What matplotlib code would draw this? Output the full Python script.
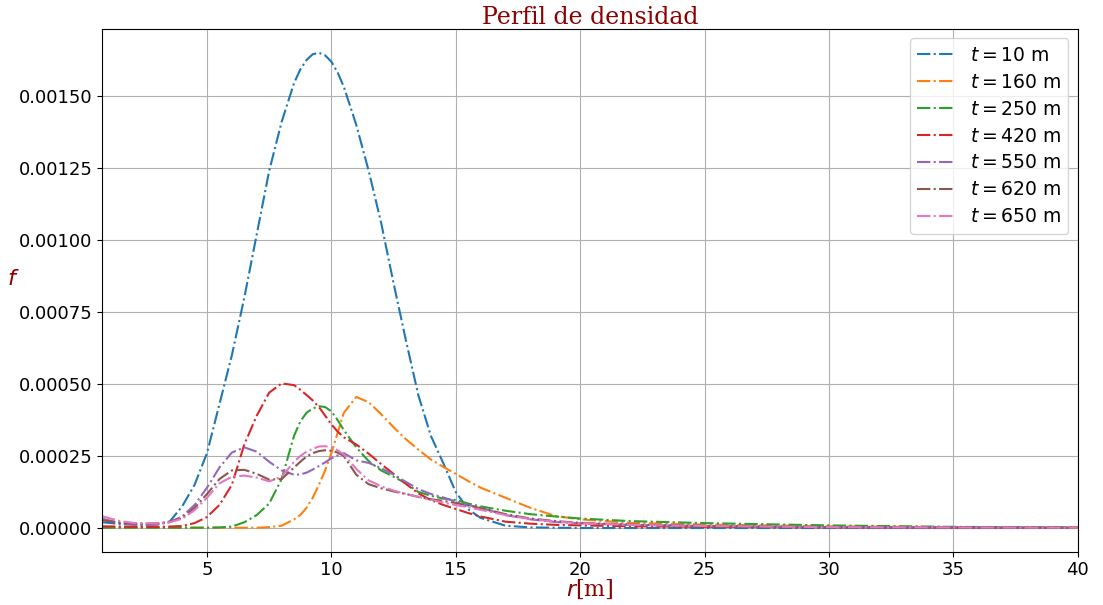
import numpy as np
import matplotlib
matplotlib.use('Agg')
import matplotlib.pyplot as plt

# radial grid (m)
r = [0.78, 1.5, 2, 2.5, 3, 3.5, 4, 4.5, 5, 5.5, 6, 6.5, 7, 7.5, 8, 8.5, 8.75, 9, 9.25,
     9.5, 9.75, 10, 10.25, 10.5, 11, 11.5, 12, 12.5, 13, 13.5, 14, 14.5, 15, 15.5, 16,
     17, 18, 19, 20, 22, 25, 30, 35, 40]

f_10 = [2.0e-5, 1.4e-5, 1.2e-5, 1.1e-5, 1.3e-5, 2.2e-5, 7.5e-5, 1.5e-4, 2.6e-4, 4.3e-4,
        6.0e-4, 8.0e-4, 1.02e-3, 1.24e-3, 1.41e-3, 1.545e-3, 1.592e-3, 1.625e-3, 1.645e-3,
        1.65e-3, 1.641e-3, 1.619e-3, 1.582e-3,
        1.532e-3, 1.40e-3, 1.24e-3, 1.06e-3, 8.5e-4, 6.5e-4, 4.6e-4, 3.2e-4, 2.25e-4,
        1.25e-4, 6.5e-5, 3.5e-5, 8.0e-6, 2.0e-6, 1.0e-6, 0, 0, 0, 0, 0, 0]
f_160 = [2e-6, 1e-6, 1e-6, 1e-6, 1e-6, 1e-6, 1e-6, 1e-6, 1e-6, 1e-6, 1e-6, 1e-6, 1e-6,
         3e-6, 8e-6, 3.0e-5, 4.5e-5, 7.0e-5, 1.05e-4, 1.5e-4, 2.0e-4, 2.6e-4, 3.3e-4,
         4.0e-4, 4.55e-4, 4.37e-4, 3.95e-4,
         3.5e-4, 3.08e-4, 2.72e-4, 2.38e-4, 2.12e-4, 1.88e-4, 1.63e-4, 1.4e-4, 1.05e-4,
         7.0e-5, 4.2e-5, 3.0e-5, 1.8e-5, 1.2e-5, 6e-6, 3e-6, 2e-6]
f_250 = [1e-6, 1e-6, 1e-6, 1e-6, 1e-6, 1e-6, 1e-6, 1e-6, 1e-6, 2e-6, 5e-6, 2.0e-5, 4.5e-5,
         8.5e-5, 1.7e-4, 3.2e-4, 3.7e-4, 4.0e-4, 4.15e-4, 4.23e-4, 4.2e-4, 4.05e-4, 3.75e-4,
         3.4e-4, 2.8e-4, 2.32e-4, 2.0e-4,
         1.78e-4, 1.55e-4, 1.25e-4, 1.12e-4, 1.02e-4, 9.7e-5, 8.5e-5, 7.5e-5, 6.0e-5,
         4.8e-5, 4.0e-5, 3.3e-5, 2.4e-5, 1.7e-5, 9e-6, 4e-6, 2e-6]
f_420 = [6e-6, 5e-6, 4e-6, 4e-6, 4e-6, 5e-6, 7e-6, 1.7e-5, 3.8e-5, 8.0e-5, 1.5e-4, 2.9e-4,
         3.9e-4, 4.7e-4, 5.02e-4, 4.96e-4, 4.8e-4, 4.62e-4, 4.43e-4, 4.2e-4, 3.9e-4,
         3.6e-4, 3.35e-4, 3.15e-4, 2.9e-4,
         2.58e-4, 2.22e-4, 1.88e-4, 1.53e-4, 1.2e-4, 9.7e-5, 8.0e-5, 6.6e-5, 5.2e-5,
         4.0e-5, 2.2e-5, 1.5e-5, 1.1e-5, 9e-6, 6e-6, 4e-6, 2e-6, 1e-6, 1e-6]
f_550 = [3.2e-5, 1.8e-5, 1.2e-5, 1.0e-5, 1.2e-5, 2.0e-5, 4.0e-5, 8.0e-5, 1.4e-4, 2.1e-4,
         2.62e-4, 2.8e-4, 2.65e-4, 2.3e-4, 2.0e-4, 1.85e-4, 1.86e-4, 1.92e-4, 2.03e-4,
         2.15e-4, 2.28e-4, 2.42e-4, 2.52e-4,
         2.6e-4, 2.35e-4, 2.26e-4, 2.08e-4, 1.85e-4, 1.6e-4, 1.35e-4, 1.18e-4, 1.06e-4,
         9.2e-5, 8.0e-5, 7.0e-5, 4.5e-5, 3.0e-5, 2.1e-5, 1.6e-5, 1.1e-5, 7e-6, 3e-6,
         2e-6, 1e-6]
f_620 = [2.7e-5, 1.8e-5, 1.6e-5, 1.5e-5, 1.6e-5, 2.2e-5, 3.5e-5, 7.0e-5, 1.18e-4, 1.7e-4,
         2.0e-4, 2.02e-4, 1.88e-4, 1.68e-4, 1.7e-4, 2.1e-4, 2.3e-4, 2.48e-4, 2.6e-4,
         2.67e-4, 2.7e-4, 2.68e-4, 2.62e-4,
         2.5e-4, 1.85e-4, 1.52e-4, 1.38e-4, 1.27e-4, 1.18e-4, 1.08e-4, 1.0e-4, 9.4e-5,
         8.7e-5, 7.8e-5, 6.9e-5, 4.8e-5, 3.3e-5, 2.4e-5, 1.8e-5, 1.2e-5, 7e-6, 3e-6,
         2e-6, 1e-6]
f_650 = [4.1e-5, 2.4e-5, 1.8e-5, 1.6e-5, 1.6e-5, 2.0e-5, 3.2e-5, 6.2e-5, 1.05e-4, 1.55e-4,
         1.78e-4, 1.82e-4, 1.75e-4, 1.62e-4, 1.78e-4, 2.3e-4, 2.5e-4, 2.65e-4, 2.75e-4,
         2.83e-4, 2.84e-4, 2.8e-4, 2.7e-4,
         2.55e-4, 2.05e-4, 1.65e-4, 1.45e-4, 1.3e-4, 1.18e-4, 1.08e-4, 9.8e-5, 8.8e-5,
         8.0e-5, 7.2e-5, 6.3e-5, 4.5e-5, 3.1e-5, 2.2e-5, 1.7e-5, 1.1e-5, 7e-6, 3e-6,
         2e-6, 1e-6]

times = [10, 160, 250, 420, 550, 620, 650]
series = [f_10, f_160, f_250, f_420, f_550, f_620, f_650]

fig = plt.figure(figsize=(11.03, 6.05), dpi=100)
ax = fig.add_subplot(111)
fig.subplots_adjust(left=0.0925, right=0.977, top=0.952, bottom=0.088)

for t, f in zip(times, series):
    ax.plot(r, f, '-.', lw=1.5, label=r'$t = %d$ m' % t)

ax.set_xlim(r[0], 40)
ax.grid(True)
ax.tick_params(labelsize=13)
ax.legend(fontsize=13.5, loc='upper right', labelspacing=0.42)

font = {'family': 'serif', 'color': 'darkred', 'size': 16}
ax.set_title('Perfil de densidad', fontdict={'family': 'serif', 'color': 'darkred', 'size': 17},
             pad=3)
ax.set_xlabel(r'$r$[m]', fontdict=font, labelpad=-1)
ax.set_ylabel(r'$f$', fontdict=font, rotation=0)

fig.savefig('out.png', dpi=100)
